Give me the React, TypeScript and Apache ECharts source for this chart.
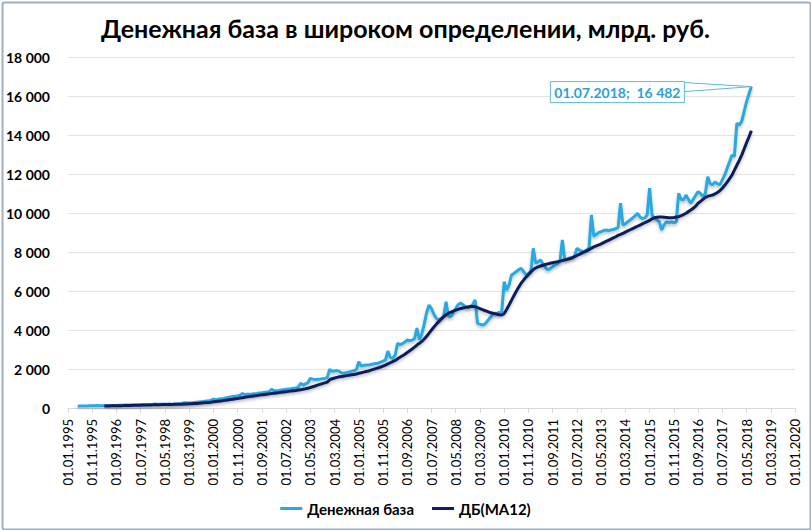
import React, { useEffect, useRef } from "react";
import * as echarts from "echarts";

// ---- Data, billions of roubles ----
const TITLE = "Денежная база в широком определении, млрд. руб.";
const SERIES_BASE = "Денежная база";
const SERIES_MA = "ДБ(МА12)";

// X axis runs monthly from 01.01.1995 to 01.01.2020; labels every 10 months
const AXIS_FIRST_YEAR = 1995;
const AXIS_LAST = "01.01.2020";
const LABEL_EVERY = 10;

// Денежная база: monthly, first value at 01.05.1995
const BASE_START = "01.05.1995";
const base1995 = [95, 100, 102, 105, 108, 110, 112, 115];
const base1996 = [125, 118, 120, 122, 125, 128, 130, 132, 134, 136, 138, 140];
const base1997 = [160, 150, 152, 155, 158, 162, 165, 168, 170, 172, 175, 178];
const base1998 = [200, 185, 188, 190, 192, 195, 200, 185, 200, 210, 220, 230];
const base1999 = [270, 255, 262, 270, 280, 295, 310, 325, 340, 355, 370, 390];
const base2000 = [450, 430, 450, 470, 490, 520, 545, 565, 585, 605, 625, 650];
const base2001 = [740, 690, 700, 705, 715, 735, 750, 770, 780, 800, 815, 835];
const base2002 = [960, 880, 890, 900, 920, 940, 960, 980, 990, 1010, 1030, 1060];
const base2003 = [1265, 1180, 1230, 1300, 1520, 1480, 1460, 1470, 1480, 1500, 1520, 1560];
const base2004 = [1985, 1880, 1900, 1920, 1880, 1790, 1800, 1820, 1850, 1880, 1920, 1960];
const base2005 = [2375, 2150, 2180, 2200, 2200, 2230, 2260, 2280, 2300, 2350, 2400, 2450];
const base2006 = [2920, 2600, 2550, 2700, 3320, 3250, 3300, 3380, 3490, 3450, 3480, 3550];
const base2007 = [4100, 3500, 3800, 4300, 4900, 5280, 5100, 4800, 4600, 4510, 4600, 4700];
const base2008 = [5450, 4700, 4680, 4900, 5100, 5300, 5380, 5300, 5200, 5150, 5200, 5300];
const base2009 = [5540, 4340, 4300, 4250, 4300, 4450, 4600, 4750, 4860, 4850, 4900, 4940];
const base2010 = [6480, 6050, 6300, 6820, 6900, 7000, 7100, 7160, 7000, 6830, 6900, 7000];
const base2011 = [8190, 7420, 7500, 7590, 7400, 7200, 7080, 7150, 7250, 7330, 7400, 7500];
const base2012 = [8615, 7590, 7650, 7700, 7720, 7760, 8190, 8100, 8050, 8020, 8100, 8200];
const base2013 = [9900, 8800, 8900, 9000, 9040, 9100, 9130, 9100, 9130, 9150, 9200, 9250];
const base2014 = [10500, 9380, 9450, 9550, 9640, 9750, 9850, 9980, 9800, 9720, 9750, 9900];
const base2015 = [11270, 9900, 9730, 9650, 9550, 9130, 9400, 9550, 9500, 9550, 9500, 9550];
const base2016 = [11010, 10700, 10670, 10920, 10700, 10500, 10700, 10900, 11100, 11000, 10850, 11000];
const base2017 = [11860, 11500, 11440, 11600, 11500, 11440, 11700, 11950, 12300, 12630, 12980, 12900];
const base2018 = [14600, 14510, 14700, 15200, 15700, 16100, 16482];

// ДБ(МА12): monthly, first value at 01.04.1996
const MA_START = "01.04.1996";
const ma1996 = [100, 103, 106, 109, 112, 115, 118, 121, 124];
const ma1997 = [128, 131, 134, 137, 140, 143, 146, 149, 152, 155, 158, 161];
const ma1998 = [165, 168, 171, 174, 177, 180, 183, 185, 187, 189, 192, 196];
const ma1999 = [202, 208, 214, 220, 228, 236, 245, 255, 265, 276, 288, 300];
const ma2000 = [315, 330, 345, 360, 378, 396, 414, 432, 450, 470, 490, 510];
const ma2001 = [530, 550, 570, 590, 608, 625, 642, 660, 676, 692, 708, 724];
const ma2002 = [740, 756, 772, 788, 804, 820, 836, 852, 868, 885, 902, 920];
const ma2003 = [940, 960, 985, 1015, 1050, 1090, 1130, 1170, 1210, 1250, 1290, 1330];
const ma2004 = [1450, 1500, 1540, 1570, 1600, 1620, 1640, 1660, 1680, 1700, 1720, 1740];
const ma2005 = [1780, 1810, 1840, 1870, 1900, 1940, 1980, 2020, 2060, 2100, 2150, 2200];
const ma2006 = [2260, 2320, 2380, 2440, 2520, 2600, 2680, 2760, 2850, 2940, 3030, 3120];
const ma2007 = [3230, 3320, 3420, 3540, 3680, 3840, 4000, 4150, 4300, 4430, 4560, 4680];
const ma2008 = [4780, 4860, 4920, 4970, 5020, 5060, 5100, 5130, 5160, 5180, 5200, 5210];
const ma2009 = [5200, 5150, 5100, 5050, 5000, 4950, 4900, 4870, 4840, 4810, 4780, 4770];
const ma2010 = [4850, 5050, 5280, 5520, 5760, 5990, 6200, 6400, 6560, 6710, 6850, 6980];
const ma2011 = [7100, 7180, 7240, 7280, 7320, 7360, 7390, 7420, 7450, 7480, 7500, 7530];
const ma2012 = [7560, 7590, 7620, 7650, 7700, 7760, 7820, 7880, 7940, 8000, 8060, 8120];
const ma2013 = [8200, 8260, 8310, 8360, 8420, 8480, 8540, 8600, 8660, 8720, 8780, 8850];
const ma2014 = [8900, 8960, 9020, 9080, 9140, 9200, 9260, 9320, 9380, 9440, 9500, 9560];
const ma2015 = [9620, 9700, 9760, 9780, 9790, 9790, 9780, 9770, 9760, 9760, 9770, 9790];
const ma2016 = [9810, 9860, 9920, 9990, 10070, 10150, 10240, 10350, 10500, 10600, 10700, 10800];
const ma2017 = [10860, 10890, 10920, 10980, 11050, 11150, 11270, 11420, 11580, 11760, 11950, 12200];
const ma2018 = [12450, 12700, 12970, 13280, 13600, 13900, 14220];

const baseValues = [
  ...base1995, ...base1996, ...base1997, ...base1998, ...base1999, ...base2000,
  ...base2001, ...base2002, ...base2003, ...base2004, ...base2005, ...base2006,
  ...base2007, ...base2008, ...base2009, ...base2010, ...base2011, ...base2012,
  ...base2013, ...base2014, ...base2015, ...base2016, ...base2017, ...base2018,
];
const maValues = [
  ...ma1996, ...ma1997, ...ma1998, ...ma1999, ...ma2000, ...ma2001, ...ma2002,
  ...ma2003, ...ma2004, ...ma2005, ...ma2006, ...ma2007, ...ma2008, ...ma2009,
  ...ma2010, ...ma2011, ...ma2012, ...ma2013, ...ma2014, ...ma2015, ...ma2016,
  ...ma2017, ...ma2018,
];

// ---- category axis: every month as "01.MM.YYYY" ----
const months: string[] = [];
for (let y = AXIS_FIRST_YEAR; ; y++) {
  let done = false;
  for (let m = 1; m <= 12; m++) {
    const s = `01.${String(m).padStart(2, "0")}.${y}`;
    months.push(s);
    if (s === AXIS_LAST) { done = true; break; }
  }
  if (done) break;
}

function placeOnAxis(start: string, values: number[]): (number | null)[] {
  const out: (number | null)[] = months.map(() => null);
  const i0 = months.indexOf(start);
  values.forEach((v, i) => { out[i0 + i] = v; });
  return out;
}

const fmtThousands = (v: number) =>
  String(Math.round(v)).replace(/\B(?=(\d{3})+(?!\d))/g, " ");

const FONT = "Lato, 'Noto Sans', sans-serif";
const BASE_COLOR = "#29a9e1";
const MA_COLOR = "#0d1f5c";
const NOTE_COLOR = "#2e9fd4";
const NOTE_BORDER = "#5fb9dc";

export default function App() {
  const ref = useRef<HTMLDivElement>(null);

  useEffect(() => {
    if (!ref.current) return;
    const chart = echarts.init(ref.current, undefined, { renderer: "svg" });
    const baseData = placeOnAxis(BASE_START, baseValues);
    const maData = placeOnAxis(MA_START, maValues);

    const shadow = {
      shadowColor: "rgba(0,0,0,0.25)",
      shadowBlur: 3,
      shadowOffsetY: 2,
    };

    chart.setOption({
      animation: false,
      backgroundColor: "#ffffff",
      title: {
        text: TITLE,
        left: "center",
        top: 10,
        textStyle: { fontFamily: FONT, fontWeight: "bold", fontSize: 25, color: "#000" },
      },
      grid: { left: 68, right: 16, top: 57, bottom: 122, containLabel: false },
      legend: {
        bottom: 9,
        left: "center",
        icon: "rect",
        itemWidth: 22,
        itemHeight: 3,
        itemGap: 18,
        textStyle: { fontFamily: FONT, fontWeight: "bold", fontSize: 15, color: "#000" },
        data: [SERIES_BASE, SERIES_MA],
      },
      xAxis: {
        type: "category",
        data: months,
        boundaryGap: false,
        axisLine: { lineStyle: { color: "#d9d9d9", width: 1 } },
        axisTick: { show: true, interval: LABEL_EVERY - 1, length: 5, lineStyle: { color: "#d9d9d9" } },
        axisLabel: {
          interval: LABEL_EVERY - 1,
          rotate: 90,
          margin: 11,
          fontFamily: FONT,
          fontSize: 13,
          color: "#000",
        },
        splitLine: { show: false },
      },
      yAxis: {
        type: "value",
        min: 0,
        max: 18000,
        interval: 2000,
        axisLine: { show: false },
        axisTick: { show: false },
        axisLabel: {
          margin: 18,
          fontFamily: FONT,
          fontWeight: "bold",
          fontSize: 14,
          color: "#000",
          formatter: (v: number) => fmtThousands(v),
        },
        splitLine: { lineStyle: { color: "#e3e3e3", width: 1 } },
      },
      series: [
        {
          name: SERIES_BASE,
          type: "line",
          data: baseData,
          showSymbol: false,
          symbol: "none",
          lineStyle: { color: BASE_COLOR, width: 3, ...shadow },
          itemStyle: { color: BASE_COLOR },
          z: 2,
        },
        {
          name: SERIES_MA,
          type: "line",
          data: maData,
          showSymbol: false,
          symbol: "none",
          lineStyle: { color: MA_COLOR, width: 3, ...shadow },
          itemStyle: { color: MA_COLOR },
          z: 3,
        },
      ],
    });

    // annotation for the last value of "Денежная база"
    const lastIdx = months.indexOf(BASE_START) + baseValues.length - 1;
    const lastDate = months[lastIdx];
    const lastVal = baseValues[baseValues.length - 1];
    const p = chart.convertToPixel({ seriesIndex: 0 }, [lastIdx, lastVal]) as number[];
    const px = p[0];
    const py = p[1];
    const boxW = 134;
    const boxH = 21;
    const boxX = px - 201;
    const boxY = py - 5;

    chart.setOption({
      graphic: [
        {
          type: "rect",
          left: 0,
          top: 0,
          shape: { x: 1, y: 1, width: 808, height: 527, r: 2 },
          style: { fill: "none", stroke: "#9fb0c0", lineWidth: 2 },
          silent: true,
          z: 100,
        },
        {
          type: "polyline",
          shape: { points: [[boxX + boxW, boxY + 1], [px, py], [boxX + boxW, boxY + 10]] },
          style: { stroke: NOTE_BORDER, lineWidth: 1, fill: "none" },
          z: 50,
        },
        {
          type: "rect",
          shape: { x: boxX, y: boxY, width: boxW, height: boxH },
          style: { fill: "#ffffff", stroke: NOTE_BORDER, lineWidth: 1 },
          z: 51,
        },
        {
          type: "text",
          x: boxX + boxW / 2,
          y: boxY + boxH / 2 + 0.5,
          style: {
            text: `${lastDate};  ${fmtThousands(lastVal)}`,
            fill: NOTE_COLOR,
            font: `bold 14px ${FONT}`,
            align: "center",
            verticalAlign: "middle",
          },
          z: 52,
        },
      ],
    });

    return () => chart.dispose();
  }, []);

  return (
    <div
      ref={ref}
      style={{ position: "fixed", left: 0, top: 0, width: 811, height: 530 }}
    />
  );
}
